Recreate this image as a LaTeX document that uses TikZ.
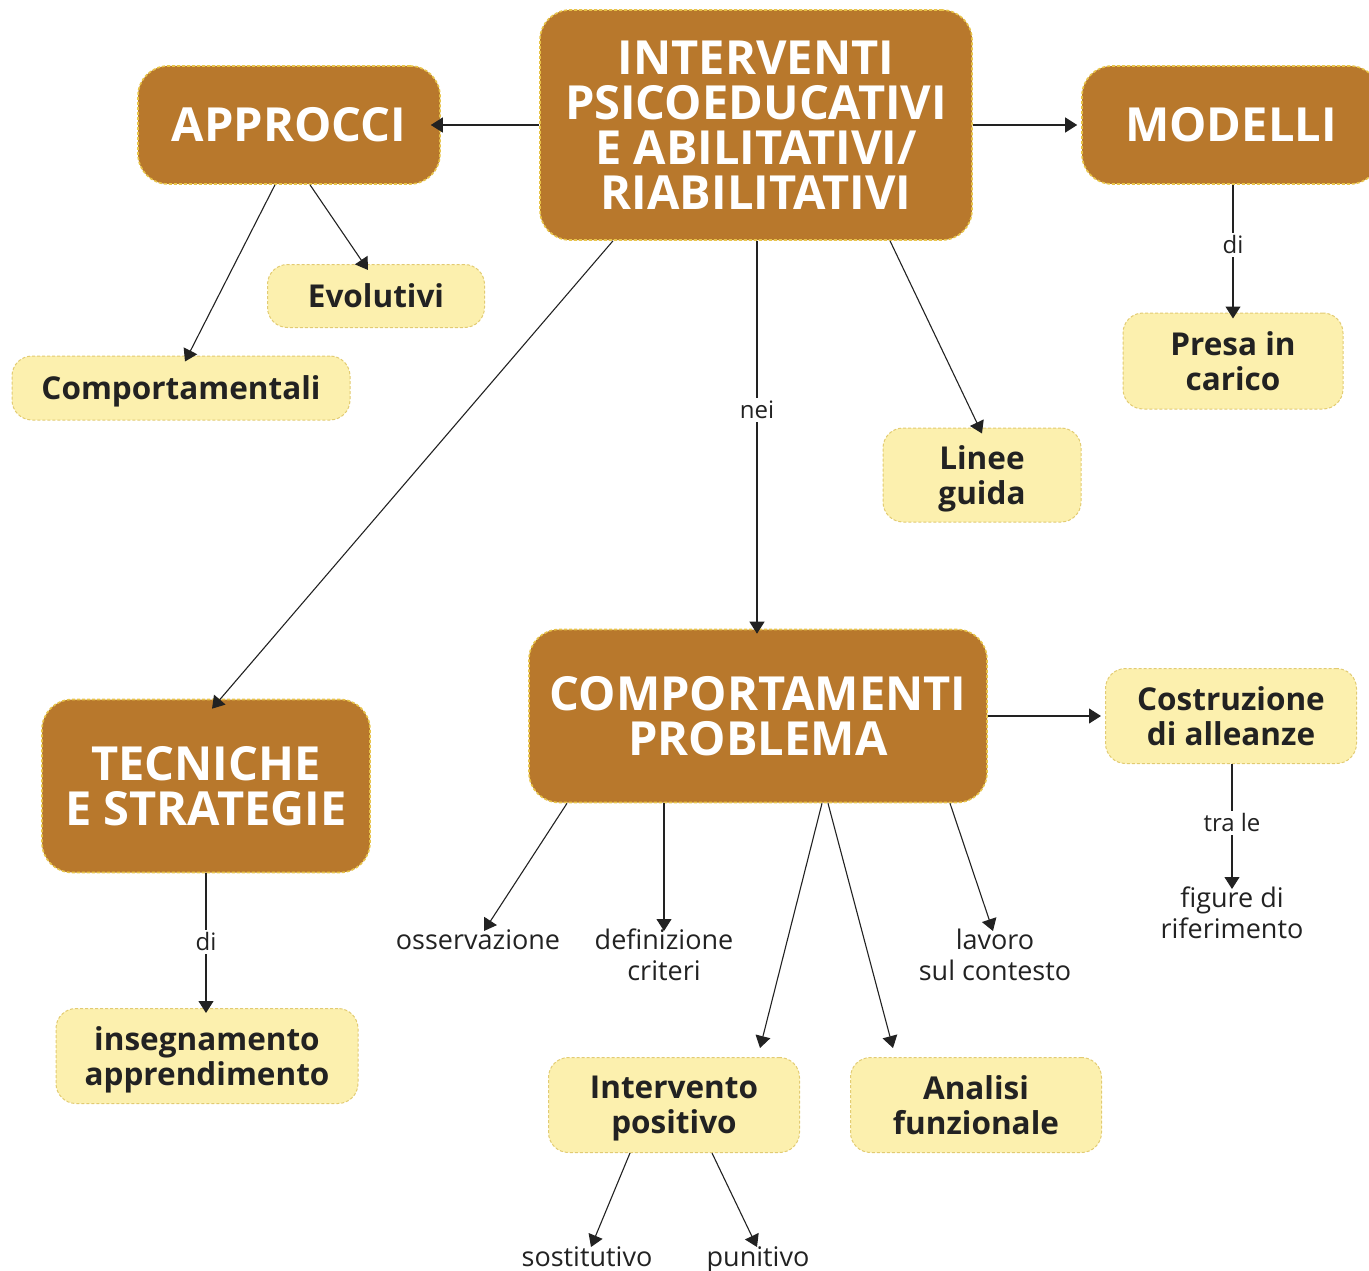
\documentclass[tikz,border=0pt]{standalone}
\usepackage{fontspec}
\setmainfont{Open Sans}
\usetikzlibrary{arrows.meta,calc}
\definecolor{dk}{HTML}{B8782C}
\definecolor{dkb}{HTML}{E8C448}
\definecolor{lt}{HTML}{FCF0AE}
\definecolor{ltb}{HTML}{E2CB72}
\definecolor{ink}{HTML}{222222}
\begin{document}
\begin{tikzpicture}[x=1pt,y=-1pt,
 dark/.style={draw=dkb, dash pattern=on 3pt off 2pt, line width=1.6pt, fill=dk, rounded corners=30pt, text=white, font=\bfseries\fontsize{47}{45}\selectfont, align=center, inner sep=0pt},
 light/.style={draw=ltb, dash pattern=on 3pt off 2pt, line width=1pt, fill=lt, rounded corners=20pt, text=ink, font=\bfseries\fontsize{31.5}{35}\selectfont, align=center, inner sep=0pt, text depth=0pt},
 plain/.style={font=\fontsize{27}{31}\selectfont, align=center, text=ink, inner sep=2pt},
 lab/.style={font=\fontsize{24}{26}\selectfont, fill=white, inner sep=3pt, text=ink},
 arr/.style={-{Triangle[length=12pt,width=15pt]}, line width=1.1pt, draw=ink},
]
\useasboundingbox (0,0) rectangle (1369,1271);
% main nodes
\node[dark, minimum width=432pt, minimum height=230pt] (c) at (756,125) {INTERVENTI\\PSICOEDUCATIVI\\E ABILITATIVI/\\RIABILITATIVI};
\node[dark, minimum width=302pt, minimum height=118pt] (app) at (289,125) {APPROCCI};
\node[dark, minimum width=298pt, minimum height=118pt] (mod) at (1231,125) {MODELLI};
\node[light, minimum width=217pt, minimum height=63pt] (evo) at (376,296) {Evolutivi};
\node[light, minimum width=338pt, minimum height=64pt] (cmp) at (181,388) {Comportamentali};
\node[light, minimum width=220pt, minimum height=96pt] (pre) at (1233,361) {Presa in\\carico};
\node[light, minimum width=198pt, minimum height=94pt] (lin) at (982,475) {Linee\\guida};
\node[dark, minimum width=458pt, minimum height=173pt] (cp) at (758,716) {COMPORTAMENTI\\PROBLEMA};
\node[dark, minimum width=328pt, minimum height=173pt] (tec) at (206,786) {TECNICHE\\E STRATEGIE};
\node[light, minimum width=251pt, minimum height=95pt] (cos) at (1231,716) {Costruzione\\di alleanze};
\node[light, minimum width=302pt, minimum height=95pt] (ins) at (207,1056) {insegnamento\\apprendimento};
\node[light, minimum width=251pt, minimum height=95pt] (ip) at (674,1105) {Intervento\\positivo};
\node[light, minimum width=251pt, minimum height=95pt] (an) at (976,1105) {Analisi\\funzionale};
% plain texts
\node[plain, anchor=north] (oss) at (478,927) {osservazione};
\node[plain, anchor=north] (def) at (664,927) {definizione\\criteri};
\node[plain, anchor=north] (lav) at (995,927) {lavoro\\sul contesto};
\node[plain, anchor=north] (fig) at (1232,885) {figure di\\riferimento};
\node[plain, anchor=north] (sos) at (587,1244) {sostitutivo};
\node[plain, anchor=north] (pun) at (758,1244) {punitivo};
% connectors
\draw[arr] (c.west) -- ([xshift=-10pt]app.east);
\draw[arr] (c.east) -- ([xshift=-4pt]mod.west);
\draw[arr] ([xshift=-14pt]app.south) -- ([xshift=4pt,yshift=-6pt]cmp.north);
\draw[arr] ([xshift=21pt]app.south) -- ([xshift=-8pt,yshift=-6pt]evo.north);
\draw[arr] ([xshift=-143pt]c.south) -- ([xshift=6pt,yshift=-10pt]tec.north);
\draw[arr] ([xshift=1pt]c.south) -- node[lab, pos=0.43] (nei) {nei} ([xshift=-1pt,yshift=-5pt]cp.north);
\draw[arr] ([xshift=134pt]c.south) -- ([yshift=-6pt]lin.north);
\draw[arr] ([xshift=2pt]mod.south) -- node[lab, pos=0.45] (di1) {di} ([yshift=-6pt]pre.north);
\draw[arr] (cp.east) -- ([xshift=-4pt]cos.west);
\draw[arr] ([xshift=1pt]cos.south) -- node[lab, pos=0.47] (tra) {tra le} ([yshift=-4pt]fig.north);
\draw[arr] (tec.south) -- node[lab, pos=0.49] (di2) {di} ([xshift=-1pt,yshift=-5pt]ins.north);
\draw[arr] ([xshift=-191pt]cp.south) -- ([xshift=6pt,yshift=-4pt]oss.north);
\draw[arr] ([xshift=-94pt]cp.south) -- ([yshift=-4pt]def.north);
\draw[arr] ([xshift=192pt]cp.south) -- ([xshift=-2pt,yshift=-4pt]lav.north);
\draw[arr] ([xshift=64pt]cp.south) -- ($(ip.north east)+(-40,-9)$);
\draw[arr] ([xshift=70pt]cp.south) -- ($(an.north west)+(43,-9)$);
\draw[arr] ([xshift=-44pt]ip.south) -- ([xshift=4pt,yshift=-3pt]sos.north);
\draw[arr] ([xshift=38pt]ip.south) -- ([xshift=-1pt,yshift=-3pt]pun.north);
\end{tikzpicture}
\end{document}
